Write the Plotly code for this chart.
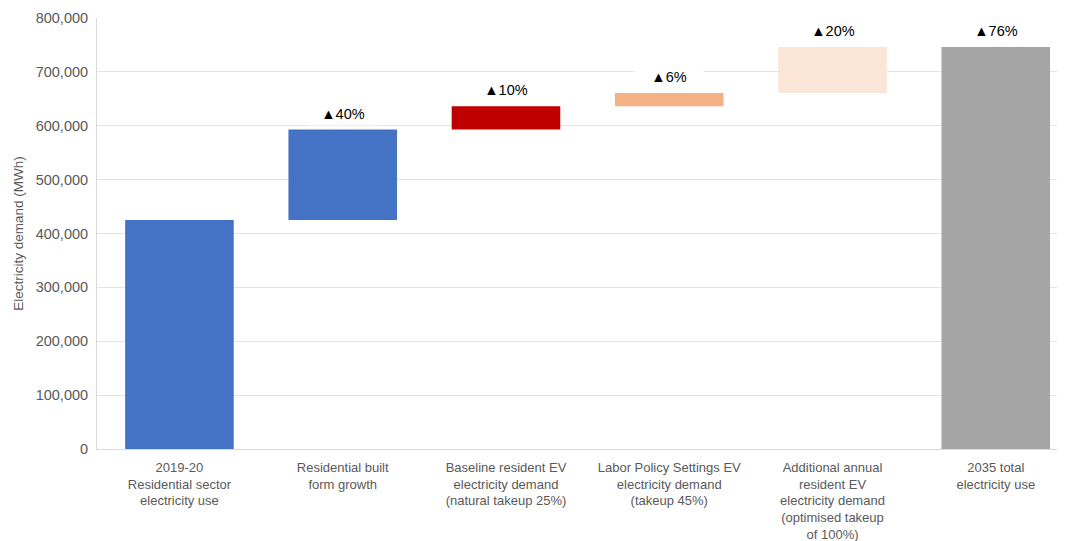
import plotly.graph_objects as go

categories = [
    "2019-20<br>Residential sector<br>electricity use",
    "Residential built<br>form growth",
    "Baseline resident EV<br>electricity demand<br>(natural takeup 25%)",
    "Labor Policy Settings EV<br>electricity demand<br>(takeup 45%)",
    "Additional annual<br>resident EV<br>electricity demand<br>(optimised takeup<br>of 100%)",
    "2035 total<br>electricity use",
]
step_values = [425000, 168000, 43000, 25000, 85000]
total_value = 746000
labels = ["", "▲40%", "▲10%", "▲6%", "▲20%", "▲76%"]
colors = ["#4472C4", "#4472C4", "#C00000", "#F4B183", "#FBE5D6", "#A5A5A5"]

# Build floating-bar bases from the step values
bases = []
running = 0
for v in step_values:
    bases.append(running)
    running += v
bases.append(0)
heights = step_values + [total_value]
tops = [b + h for b, h in zip(bases, heights)]

x_idx = list(range(len(categories)))

fig = go.Figure()
fig.add_trace(go.Bar(
    x=x_idx, y=heights, base=bases,
    marker=dict(color=colors, line=dict(width=0)),
    width=0.665, hoverinfo="skip", showlegend=False,
))

for i, (lab, top) in enumerate(zip(labels, tops)):
    if not lab:
        continue
    fig.add_annotation(
        x=i, y=top, text=lab, showarrow=False,
        yanchor="middle", yshift=16,
        font=dict(family="Liberation Sans, Arial, sans-serif", size=14.5, color="#000000"),
        bgcolor="#FFFFFF", width=66, height=20,
    )

fig.update_layout(
    width=1057, height=533,
    margin=dict(l=89, r=0, t=10, b=92),
    plot_bgcolor="#FFFFFF", paper_bgcolor="#FFFFFF",
    font=dict(family="Liberation Sans, Arial, sans-serif", color="#595959"),
    hovermode=False,
)
fig.update_xaxes(
    range=[-0.505, 5.424],
    tickmode="array", tickvals=x_idx, ticktext=categories,
    tickfont=dict(size=13, color="#595959"),
    showgrid=False, showline=True, linecolor="#D9D9D9", linewidth=1,
    ticks="outside", ticklen=6, tickcolor="rgba(0,0,0,0)",
    zeroline=False, automargin=False,
)
fig.update_yaxes(
    range=[0, 800000], dtick=100000, tickformat=",d",
    tickfont=dict(size=14.5, color="#595959"),
    showgrid=True, gridcolor="#E3E3E3", gridwidth=1,
    showline=True, linecolor="#D9D9D9", linewidth=1,
    ticks="outside", ticklen=5, tickcolor="rgba(0,0,0,0)",
    zeroline=False, automargin=False,
    title=dict(text="Electricity demand (MWh)", font=dict(size=13.5, color="#595959"), standoff=8),
)

fig.write_html("out.html")
